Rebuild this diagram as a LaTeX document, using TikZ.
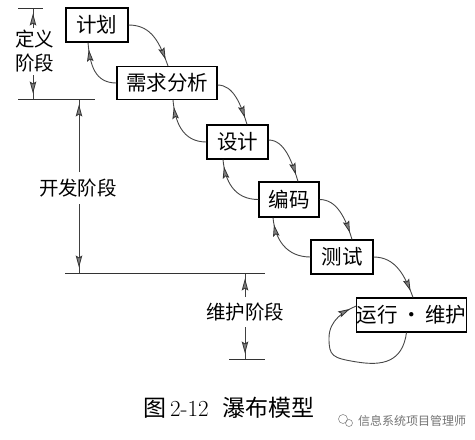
\documentclass[tikz,border=0pt]{standalone}
\usepackage{fontspec}
\newfontfamily\cjk{Noto Sans CJK SC}
\usetikzlibrary{arrows.meta,calc,decorations.markings}
\tikzset{
  stage/.style={draw=black, line width=1.1pt, inner sep=0pt, minimum height=34pt,
    font=\cjk\fontsize{20.5}{24}\selectfont},
  headnear/.style={postaction={decorate},
    decoration={markings, mark=at position #1 with
      {\arrow[draw=black!80, line width=0.8pt]{Stealth[length=12pt,width=6.5pt,inset=2pt,fill=black!50]}}}},
  flow/.style={draw=black!72, line width=0.9pt, headnear=-7pt},
  dimline/.style={draw=black!80, line width=1pt},
  dimarrow/.style={draw=black!75, line width=0.9pt, headnear=-5pt},
  lbl/.style={font=\cjk\fontsize{19.5}{23}\selectfont, inner sep=0pt, align=center},
}
\begin{document}
\begin{tikzpicture}[x=1pt,y=-1pt]
\useasboundingbox (0,0) rectangle (475,440);

% stage boxes
\node[stage, minimum width=62pt] (jh) at (97,25) {计划};
\node[stage, minimum width=100pt, minimum height=33pt] (xq) at (167,83) {需求分析};
\node[stage, minimum width=61pt] (sj) at (237.5,142) {设计};
\node[stage, minimum width=60pt, minimum height=35pt] (bm) at (289,199.5) {编码};
\node[stage, minimum width=62pt] (cs) at (342,257) {测试};
\node[stage, minimum width=109pt] (yx) at (411.5,315) {运行\,·\,维护};

% forward arrows
\draw[flow] (jh.east) .. controls +(24,0) and +(-8,-22) .. ($(xq.north)+(1,0)$);
\draw[flow] ($(xq.east)+(0,2)$) .. controls +(16,0) and +(-6,-20) .. ($(sj.north)+(9.5,0)$);
\draw[flow] ($(sj.east)+(0,-2)$) .. controls +(16,0) and +(-6,-20) .. ($(bm.north)+(9,0)$);
\draw[flow] (bm.east) .. controls +(18,0) and +(-6,-20) .. ($(cs.north)+(10,0)$);
\draw[flow] (cs.east) .. controls +(22,0) and +(-8,-22) .. ($(yx.north)+(1.5,0)$);

% backward arrows
\draw[flow] (xq.west) .. controls +(-22,0) and +(2,22) .. ($(jh.south)+(-9,0)$);
\draw[flow] (sj.west) .. controls +(-24,0) and +(2,22) .. ($(xq.south)+(6,0)$);
\draw[flow] (bm.west) .. controls +(-24,0) and +(2,22) .. ($(sj.south)+(-14.5,0)$);
\draw[flow] (cs.west) .. controls +(-24,0) and +(2,22) .. ($(bm.south)+(-16,0)$);

% self loop on yx
\coordinate (loopL) at (329,338);
\draw[flow] ($(yx.south)+(-5,0)$) .. controls +(-4,30) and +(25,4) .. (357,362)
  .. controls +(-25,-4) and +(0,18) .. (loopL)
  .. controls +(0,-18) and +(-12,5) .. ($(yx.west)+(0,-9)$);

% definition phase
\draw[dimline] (18,8) -- (43,8);
\draw[dimline] (18,99) -- (95,99);
\node[lbl] (dy) at (35,51) {定义\\[1pt]阶段};
\coordinate (dytop) at (33,8.5);
\coordinate (dybot) at (33,98.5);
\draw[dimarrow] (33,28) -- (dytop);
\draw[dimarrow] (33,75) -- (dybot);

% development phase
\draw[dimline] (65,273) -- (265,273);
\node[lbl] (kf) at (78,188) {开发阶段};
\coordinate (kftop) at (79,99.5);
\coordinate (kfbot) at (79,272.5);
\draw[dimarrow] (79,172) -- (kftop);
\draw[dimarrow] (79,204) -- (kfbot);

% maintenance phase
\draw[dimline] (229,359) -- (265,359);
\node[lbl] (wh) at (245,312) {维护阶段};
\coordinate (whtop) at (245,273.5);
\coordinate (whbot) at (245,358.5);
\draw[dimarrow] (245,297) -- (whtop);
\draw[dimarrow] (245,327) -- (whbot);

% caption
\node[inner sep=0pt, font=\fontsize{23}{26}\selectfont] (cap) at (229,408)
  {{\cjk 图}\,2-12\hspace{14pt}{\cjk 瀑布模型}};

% watermark
\draw[black!45, line width=0.6pt] (343,419) circle (4.5pt);
\draw[black!45, line width=0.6pt] (349,423) circle (3.5pt);
\node[inner sep=0pt, text=black!55, font=\cjk\fontsize{12}{14}\selectfont] (wm) at (412,421) {信息系统项目管理师};
\end{tikzpicture}
\end{document}
